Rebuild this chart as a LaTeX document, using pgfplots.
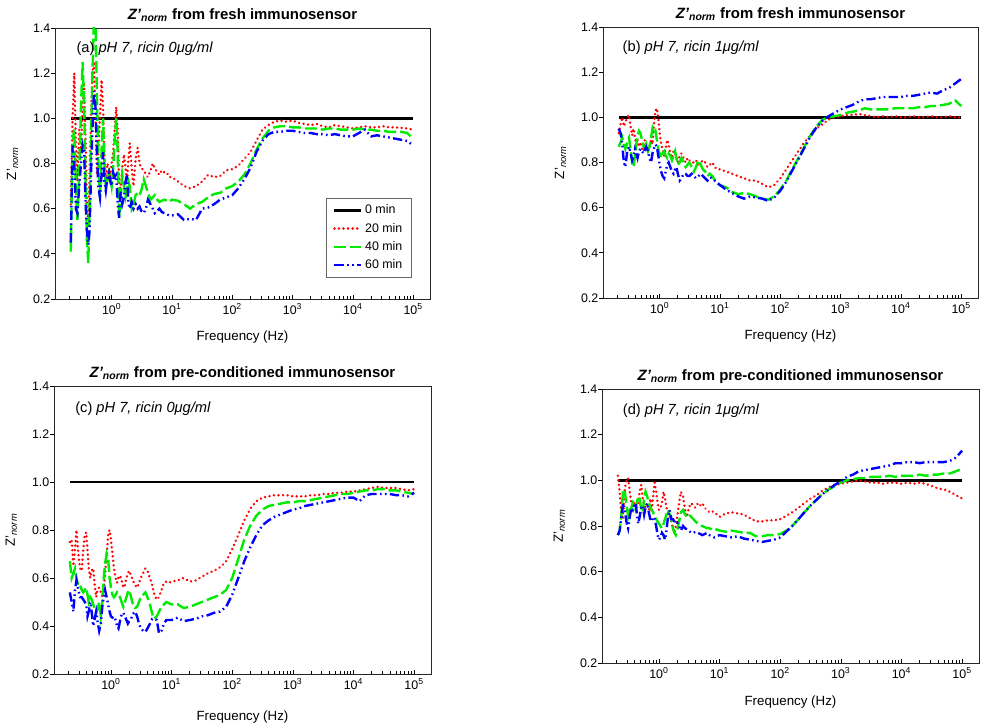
\documentclass[border=0pt]{standalone}
\usepackage{fontspec}
\setmainfont{Liberation Sans}
\usepackage{pgfplots}
\pgfplotsset{compat=1.18}
\usepackage{pgfplotstable}

\definecolor{cR}{RGB}{255,0,0}
\definecolor{cG}{RGB}{0,235,0}
\definecolor{cB}{RGB}{0,0,255}

% columns: f = frequency (Hz), r = 20 min, g = 40 min, b = 60 min
\pgfplotstableread{
f r g b
0.21 0.62 0.41 0.45
0.225 1.0 0.9 0.88
0.24 1.2 0.95 0.8
0.255 0.9 0.7 0.6
0.27 0.72 0.55 0.58
0.29 0.95 0.75 0.7
0.31 0.85 1.05 0.8
0.33 1.05 1.25 0.88
0.35 1.15 1.05 0.85
0.37 0.9 0.7 0.62
0.39 0.6 0.45 0.5
0.41 0.55 0.36 0.44
0.43 0.75 0.6 0.5
0.455 1.0 0.9 0.75
0.48 1.2 1.2 0.95
0.51 1.25 1.45 1.12
0.54 1.0 1.45 1.05
0.57 0.75 1.1 0.85
0.6 0.85 0.8 0.7
0.64 1.0 0.65 0.65
0.68 1.17 0.85 0.75
0.72 1.05 1.0 0.85
0.76 0.82 0.8 0.72
0.8 0.72 0.7 0.68
0.85 0.8 0.72 0.74
0.9 0.78 0.76 0.76
0.95 0.74 0.74 0.72
1.0 0.8 0.7 0.7
1.06 0.85 0.78 0.76
1.12 0.95 0.9 0.74
1.19 1.05 1.0 0.75
1.26 0.95 0.85 0.62
1.33 0.72 0.56 0.56
1.41 0.68 0.65 0.68
1.5 0.78 0.75 0.62
1.6 0.84 0.7 0.65
1.7 0.78 0.65 0.72
1.8 0.72 0.68 0.75
1.9 0.82 0.72 0.62
2.0 0.89 0.7 0.6
2.15 0.78 0.6 0.63
2.3 0.7 0.62 0.6
2.5 0.82 0.66 0.62
2.7 0.87 0.67 0.6
2.9 0.8 0.66 0.61
3.1 0.78 0.68 0.59
3.4 0.77 0.73 0.58
3.7 0.75 0.7 0.6
4.0 0.74 0.67 0.64
4.4 0.77 0.64 0.62
4.8 0.8 0.65 0.6
5.2 0.78 0.66 0.58
5.7 0.76 0.64 0.59
6.2 0.75 0.63 0.6
6.8 0.77 0.635 0.585
7.5 0.76 0.64 0.58
8.2 0.76 0.635 0.575
9.0 0.74 0.63 0.57
10 0.74 0.64 0.57
12.6 0.72 0.635 0.575
15.8 0.7 0.62 0.55
20 0.69 0.6 0.555
25.1 0.7 0.62 0.55
31.6 0.72 0.63 0.6
39.8 0.75 0.65 0.605
50.1 0.74 0.665 0.62
63.1 0.745 0.67 0.64
79.4 0.77 0.69 0.65
100 0.775 0.7 0.66
126 0.79 0.72 0.69
158 0.82 0.75 0.73
200 0.85 0.8 0.78
251 0.9 0.86 0.85
316 0.95 0.91 0.9
398 0.97 0.945 0.93
501 0.985 0.96 0.94
631 0.99 0.965 0.94
794 0.985 0.965 0.945
1000 0.99 0.96 0.945
1259 0.98 0.96 0.94
1585 0.975 0.955 0.935
1995 0.97 0.955 0.935
2512 0.975 0.955 0.93
3162 0.965 0.95 0.93
3981 0.96 0.955 0.925
5012 0.97 0.955 0.93
6310 0.965 0.95 0.925
7943 0.96 0.95 0.92
10000 0.955 0.95 0.92
12589 0.96 0.955 0.935
15849 0.965 0.95 0.95
19953 0.96 0.95 0.92
25119 0.96 0.945 0.925
31623 0.965 0.945 0.92
39811 0.96 0.94 0.915
50119 0.96 0.94 0.91
63096 0.958 0.94 0.905
79433 0.955 0.935 0.9
100000 0.95 0.91 0.88
}\tA

\pgfplotstableread{
f r g b
0.21 0.93 0.87 0.95
0.225 0.97 0.89 0.93
0.24 1.0 0.91 0.88
0.255 0.96 0.88 0.8
0.27 0.98 0.86 0.78
0.29 1.0 0.89 0.85
0.31 1.01 0.91 0.87
0.33 0.96 0.86 0.84
0.35 0.92 0.8 0.81
0.37 0.95 0.78 0.83
0.39 0.91 0.83 0.86
0.41 0.88 0.88 0.84
0.43 0.9 0.92 0.82
0.455 0.87 0.94 0.85
0.48 0.89 0.93 0.86
0.51 0.86 0.9 0.85
0.54 0.88 0.87 0.84
0.57 0.9 0.86 0.86
0.6 0.87 0.88 0.87
0.64 0.85 0.85 0.85
0.68 0.87 0.87 0.82
0.72 0.9 0.91 0.8
0.76 0.88 0.95 0.84
0.8 0.96 0.93 0.86
0.85 1.03 0.94 0.88
0.9 1.04 0.9 0.87
0.95 1.0 0.86 0.83
1.0 0.93 0.84 0.79
1.06 0.88 0.82 0.76
1.12 0.86 0.84 0.74
1.19 0.83 0.85 0.73
1.26 0.86 0.83 0.76
1.33 0.9 0.82 0.79
1.41 0.88 0.84 0.8
1.5 0.84 0.83 0.78
1.6 0.82 0.81 0.76
1.7 0.85 0.83 0.75
1.8 0.84 0.85 0.77
1.9 0.82 0.82 0.78
2.0 0.8 0.79 0.75
2.15 0.83 0.8 0.72
2.3 0.84 0.82 0.73
2.5 0.82 0.8 0.75
2.7 0.8 0.78 0.75
2.9 0.82 0.79 0.74
3.1 0.81 0.8 0.74
3.4 0.8 0.78 0.75
3.7 0.8 0.76 0.74
4.0 0.81 0.78 0.73
4.4 0.79 0.81 0.74
4.8 0.8 0.79 0.75
5.2 0.81 0.77 0.74
5.7 0.8 0.76 0.73
6.2 0.78 0.74 0.72
6.8 0.79 0.75 0.735
7.5 0.8 0.74 0.73
8.2 0.78 0.72 0.72
9.0 0.77 0.71 0.71
10 0.77 0.7 0.7
12.6 0.76 0.69 0.68
15.8 0.75 0.67 0.665
20 0.74 0.66 0.65
25.1 0.73 0.665 0.64
31.6 0.72 0.66 0.65
39.8 0.72 0.65 0.645
50.1 0.705 0.64 0.64
63.1 0.69 0.635 0.63
79.4 0.7 0.65 0.645
100 0.73 0.68 0.675
126 0.77 0.72 0.715
158 0.81 0.77 0.765
200 0.85 0.82 0.815
251 0.89 0.87 0.865
316 0.92 0.92 0.915
398 0.95 0.96 0.955
501 0.97 0.99 0.985
631 0.99 1.0 1.005
794 1.0 1.005 1.02
1000 1.005 1.01 1.035
1259 1.01 1.02 1.045
1585 1.01 1.025 1.055
1995 1.015 1.03 1.07
2512 1.01 1.04 1.08
3162 1.005 1.035 1.08
3981 1.0 1.035 1.085
5012 1.005 1.035 1.09
6310 1.0 1.035 1.09
7943 1.005 1.04 1.09
10000 1.0 1.04 1.09
12589 1.0 1.04 1.095
15849 1.005 1.04 1.095
19953 1.0 1.045 1.1
25119 1.0 1.045 1.105
31623 1.005 1.05 1.11
39811 1.0 1.05 1.105
50119 1.0 1.055 1.12
63096 1.005 1.06 1.13
79433 1.0 1.075 1.15
100000 1.0 1.05 1.17
}\tB

\pgfplotstableread{
f r g b
0.21 0.75 0.67 0.54
0.225 0.76 0.6 0.5
0.24 0.65 0.62 0.46
0.255 0.72 0.64 0.55
0.27 0.8 0.6 0.59
0.29 0.7 0.565 0.55
0.31 0.64 0.57 0.52
0.33 0.63 0.55 0.52
0.35 0.72 0.54 0.51
0.37 0.78 0.55 0.5
0.39 0.79 0.56 0.49
0.41 0.72 0.53 0.44
0.43 0.64 0.5 0.46
0.455 0.6 0.52 0.5
0.48 0.63 0.51 0.46
0.51 0.64 0.49 0.4
0.54 0.57 0.47 0.43
0.57 0.52 0.455 0.46
0.6 0.55 0.47 0.42
0.64 0.56 0.5 0.38
0.68 0.54 0.44 0.41
0.72 0.52 0.5 0.48
0.76 0.56 0.6 0.52
0.8 0.61 0.66 0.55
0.85 0.7 0.7 0.52
0.9 0.78 0.68 0.49
0.95 0.8 0.6 0.46
1.0 0.76 0.56 0.44
1.06 0.7 0.53 0.435
1.12 0.64 0.52 0.44
1.19 0.6 0.53 0.425
1.26 0.58 0.54 0.4
1.33 0.6 0.53 0.39
1.41 0.61 0.52 0.42
1.5 0.59 0.5 0.45
1.6 0.56 0.48 0.455
1.7 0.57 0.5 0.44
1.8 0.6 0.52 0.425
1.9 0.62 0.54 0.41
2.0 0.63 0.55 0.42
2.15 0.61 0.52 0.43
2.3 0.59 0.49 0.45
2.5 0.57 0.475 0.46
2.7 0.56 0.48 0.44
2.9 0.58 0.5 0.41
3.1 0.6 0.52 0.39
3.4 0.62 0.53 0.38
3.7 0.64 0.54 0.375
4.0 0.63 0.52 0.39
4.4 0.6 0.49 0.41
4.8 0.57 0.45 0.43
5.2 0.53 0.43 0.43
5.7 0.51 0.44 0.425
6.2 0.52 0.46 0.37
6.8 0.55 0.48 0.38
7.5 0.58 0.49 0.41
8.2 0.585 0.5 0.425
9.0 0.58 0.495 0.425
10 0.585 0.49 0.425
12.6 0.59 0.49 0.435
15.8 0.6 0.475 0.42
20 0.585 0.48 0.425
25.1 0.59 0.49 0.43
31.6 0.605 0.5 0.44
39.8 0.62 0.51 0.445
50.1 0.63 0.52 0.455
63.1 0.645 0.53 0.46
79.4 0.67 0.55 0.48
100 0.72 0.6 0.53
126 0.78 0.68 0.6
158 0.84 0.76 0.67
200 0.89 0.82 0.73
251 0.92 0.86 0.78
316 0.935 0.885 0.82
398 0.94 0.9 0.84
501 0.945 0.905 0.855
631 0.945 0.91 0.865
794 0.945 0.915 0.875
1000 0.94 0.915 0.885
1259 0.94 0.92 0.89
1585 0.94 0.92 0.9
1995 0.945 0.925 0.905
2512 0.945 0.93 0.91
3162 0.95 0.935 0.915
3981 0.95 0.94 0.92
5012 0.955 0.945 0.925
6310 0.955 0.95 0.93
7943 0.96 0.95 0.935
10000 0.96 0.955 0.935
12589 0.965 0.96 0.92
15849 0.97 0.965 0.945
19953 0.975 0.965 0.95
25119 0.98 0.97 0.95
31623 0.975 0.97 0.95
39811 0.975 0.965 0.95
50119 0.975 0.965 0.945
63096 0.97 0.96 0.945
79433 0.965 0.955 0.94
100000 0.97 0.95 0.955
}\tC

\pgfplotstableread{
f r g b
0.21 1.02 0.76 0.76
0.225 0.95 0.78 0.78
0.24 0.85 0.85 0.84
0.255 0.83 0.95 0.9
0.27 0.95 0.96 0.88
0.29 1.0 0.9 0.82
0.31 1.01 0.84 0.79
0.33 0.95 0.87 0.84
0.35 0.9 0.88 0.88
0.37 0.9 0.9 0.87
0.39 0.91 0.88 0.89
0.41 0.89 0.87 0.9
0.43 0.88 0.9 0.86
0.455 0.9 0.93 0.81
0.48 0.95 0.92 0.84
0.51 0.98 0.87 0.88
0.54 0.92 0.86 0.89
0.57 0.89 0.92 0.85
0.6 0.88 0.95 0.88
0.64 0.9 0.93 0.9
0.68 0.87 0.9 0.86
0.72 0.92 0.88 0.83
0.76 0.86 0.87 0.82
0.8 0.93 0.86 0.84
0.85 0.99 0.84 0.83
0.9 0.95 0.83 0.8
0.95 0.9 0.82 0.76
1.0 0.87 0.81 0.74
1.06 0.88 0.8 0.75
1.12 0.9 0.79 0.77
1.19 0.95 0.81 0.76
1.26 0.92 0.83 0.74
1.33 0.88 0.85 0.78
1.41 0.86 0.87 0.84
1.5 0.84 0.85 0.87
1.6 0.82 0.83 0.83
1.7 0.79 0.79 0.83
1.8 0.77 0.77 0.82
1.9 0.8 0.76 0.81
2.0 0.84 0.78 0.815
2.15 0.9 0.82 0.8
2.3 0.95 0.86 0.78
2.5 0.93 0.87 0.8
2.7 0.87 0.85 0.79
2.9 0.84 0.84 0.785
3.1 0.88 0.85 0.78
3.4 0.9 0.84 0.77
3.7 0.89 0.83 0.77
4.0 0.88 0.82 0.775
4.4 0.9 0.81 0.77
4.8 0.89 0.8 0.765
5.2 0.9 0.8 0.76
5.7 0.88 0.795 0.765
6.2 0.87 0.79 0.77
6.8 0.86 0.79 0.76
7.5 0.865 0.785 0.755
8.2 0.86 0.78 0.75
9.0 0.85 0.785 0.755
10 0.84 0.78 0.76
12.6 0.855 0.775 0.755
15.8 0.86 0.78 0.75
20 0.855 0.775 0.755
25.1 0.85 0.77 0.745
31.6 0.835 0.77 0.74
39.8 0.82 0.755 0.735
50.1 0.82 0.755 0.73
63.1 0.825 0.76 0.735
79.4 0.825 0.76 0.74
100 0.83 0.765 0.75
126 0.845 0.78 0.775
158 0.86 0.8 0.8
200 0.88 0.83 0.83
251 0.9 0.86 0.86
316 0.92 0.89 0.89
398 0.935 0.915 0.915
501 0.955 0.94 0.94
631 0.97 0.96 0.96
794 0.98 0.975 0.98
1000 0.985 0.99 0.995
1259 0.99 1.0 1.015
1585 0.995 1.005 1.025
1995 1.0 1.01 1.04
2512 0.995 1.01 1.045
3162 0.99 1.015 1.05
3981 0.99 1.015 1.055
5012 0.985 1.015 1.06
6310 0.99 1.02 1.065
7943 0.99 1.015 1.075
10000 0.985 1.02 1.075
12589 0.99 1.02 1.08
15849 0.985 1.02 1.08
19953 0.99 1.025 1.075
25119 0.985 1.02 1.08
31623 0.975 1.025 1.08
39811 0.965 1.025 1.08
50119 0.96 1.03 1.08
63096 0.95 1.03 1.085
79433 0.935 1.04 1.1
100000 0.92 1.05 1.13
}\tD

\pgfplotsset{every axis/.append style={
    scale only axis,
    xmode=log, xmin=0.115, xmax=1.9e5, ymin=0.2, ymax=1.4,
    xtick={1,10,100,1000,10000,100000},
    xticklabels={10\textsuperscript{0},10\textsuperscript{1},10\textsuperscript{2},10\textsuperscript{3},10\textsuperscript{4},10\textsuperscript{5}},
    minor xtick={0.2,0.3,0.4,0.5,0.6,0.7,0.8,0.9,2,3,4,5,6,7,8,9,20,30,40,50,60,70,80,90,200,300,400,500,600,700,800,900,2000,3000,4000,5000,6000,7000,8000,9000,20000,30000,40000,50000,60000,70000,80000,90000},
    ytick={0.2,0.4,0.6,0.8,1.0,1.2,1.4},
    yticklabels={0.2,0.4,0.6,0.8,1.0,1.2,1.4},
    xtick pos=left, ytick pos=left,
    tick align=inside,
    major tick length=3pt, minor tick length=2pt,
    tick style={black, line width=0.5pt},
    ytick style={xshift=-3pt},
    axis line style={black!85, line width=0.6pt},
    ticklabel style={font=\fontsize{9.3}{10}\selectfont},
    label style={font=\fontsize{9.3}{10}\selectfont},
    ylabel={Z'\textsubscript{\itshape norm}},
    xlabel={Frequency (Hz)},
    every axis y label/.style={at={(axis description cs:-0.113,0.5)}, rotate=90, anchor=center},
    every axis title/.style={at={(axis description cs:0.5,1)}, anchor=center, yshift=9.5pt, font=\fontsize{11.2}{13}\selectfont\bfseries},
}}

\begin{document}
\begin{tikzpicture}
\path[use as bounding box] (0pt,0pt) rectangle (750pt,543pt);

% (a)
\begin{axis}[at={(41.25pt,318.75pt)}, anchor=south west,
  width=281.25pt, height=203.25pt,
  every axis x label/.style={at={(axis description cs:0.5,-0.14)}, anchor=center},
  title={{\itshape Z'\textsubscript{norm}} from fresh immunosensor},
  legend image code/.code={\draw[#1] (0pt,0pt) -- (20pt,0pt);},
  legend style={at={(0.952,0.373)}, anchor=north east, draw=black!60, line width=0.5pt,
    font=\fontsize{9.3}{10}\selectfont, cells={anchor=west}, row sep=1.4pt,
    inner xsep=5pt, inner ysep=3pt}]
\addplot[black, line width=2pt] coordinates {(0.21,1) (100000,1)};
\addlegendentry{0 min}
\addplot[cR, line width=2pt, line cap=round, dash pattern=on 0.01pt off 3.4pt] table[x=f,y=r]{\tA};
\addlegendentry{20 min}
\addplot[cG, line width=1.8pt, dash pattern=on 9pt off 3pt] table[x=f,y=g]{\tA};
\addlegendentry{40 min}
\addplot[cB, line width=1.8pt, dash pattern=on 7pt off 2.5pt on 1.2pt off 2.5pt on 1.2pt off 2.5pt] table[x=f,y=b]{\tA};
\addlegendentry{60 min}
\node[anchor=west, font=\fontsize{11}{13}\selectfont] at (axis description cs:0.045,0.922) {(a) \textit{pH 7, ricin 0μg/ml}};
\end{axis}

% (b)
\begin{axis}[at={(452.25pt,319.5pt)}, anchor=south west,
  width=281.25pt, height=203.25pt,
  every axis x label/.style={at={(axis description cs:0.5,-0.14)}, anchor=center},
  title={{\itshape Z'\textsubscript{norm}} from fresh immunosensor}]
\addplot[black, line width=2pt] coordinates {(0.21,1) (100000,1)};
\addplot[cR, line width=2pt, line cap=round, dash pattern=on 0.01pt off 3.4pt] table[x=f,y=r]{\tB};
\addplot[cG, line width=1.8pt, dash pattern=on 9pt off 3pt] table[x=f,y=g]{\tB};
\addplot[cB, line width=1.8pt, dash pattern=on 7pt off 2.5pt on 1.2pt off 2.5pt on 1.2pt off 2.5pt] table[x=f,y=b]{\tB};
\node[anchor=west, font=\fontsize{11}{13}\selectfont] at (axis description cs:0.04,0.922) {(b) \textit{pH 7, ricin 1μg/ml}};
\end{axis}

% (c)
\begin{axis}[at={(40.5pt,37.5pt)}, anchor=south west,
  width=282.75pt, height=216pt,
  every axis x label/.style={at={(axis description cs:0.5,-0.149)}, anchor=center},
  title={{\itshape Z'\textsubscript{norm}} from pre-conditioned immunosensor}]
\addplot[black, line width=2pt] coordinates {(0.21,1) (100000,1)};
\addplot[cR, line width=2pt, line cap=round, dash pattern=on 0.01pt off 3.4pt] table[x=f,y=r]{\tC};
\addplot[cG, line width=1.8pt, dash pattern=on 9pt off 3pt] table[x=f,y=g]{\tC};
\addplot[cB, line width=1.8pt, dash pattern=on 7pt off 2.5pt on 1.2pt off 2.5pt on 1.2pt off 2.5pt] table[x=f,y=b]{\tC};
\node[anchor=west, font=\fontsize{11}{13}\selectfont] at (axis description cs:0.044,0.92) {(c) \textit{pH 7, ricin 0μg/ml}};
\end{axis}

% (d)
\begin{axis}[at={(451.5pt,45.75pt)}, anchor=south west,
  width=282.75pt, height=205.5pt,
  every axis x label/.style={at={(axis description cs:0.5,-0.142)}, anchor=center},
  title={{\itshape Z'\textsubscript{norm}} from pre-conditioned immunosensor}]
\addplot[black, line width=2pt] coordinates {(0.21,1) (100000,1)};
\addplot[cR, line width=2pt, line cap=round, dash pattern=on 0.01pt off 3.4pt] table[x=f,y=r]{\tD};
\addplot[cG, line width=1.8pt, dash pattern=on 9pt off 3pt] table[x=f,y=g]{\tD};
\addplot[cB, line width=1.8pt, dash pattern=on 7pt off 2.5pt on 1.2pt off 2.5pt on 1.2pt off 2.5pt] table[x=f,y=b]{\tD};
\node[anchor=west, font=\fontsize{11}{13}\selectfont] at (axis description cs:0.043,0.922) {(d) \textit{pH 7, ricin 1μg/ml}};
\end{axis}
\end{tikzpicture}
\end{document}
